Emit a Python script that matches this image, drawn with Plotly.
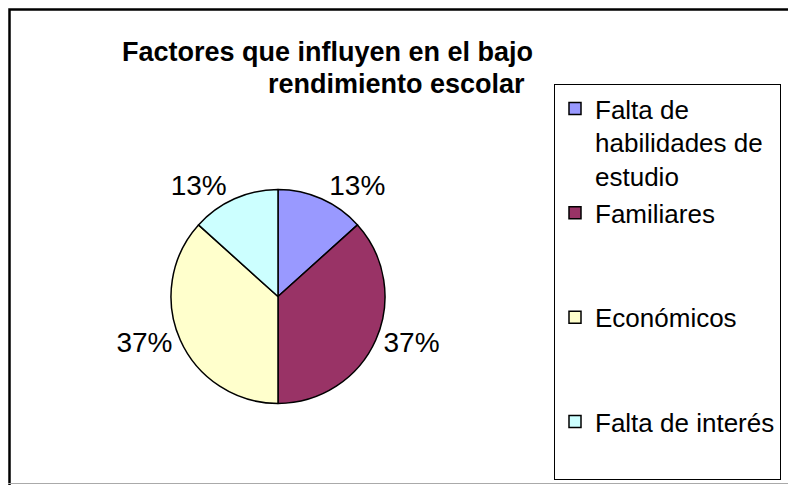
import plotly.graph_objects as go

# ---- data ----
categorias = ["Falta de habilidades de estudio", "Familiares", "Económicos", "Falta de interés"]
etiquetas_leyenda = [
    "Falta de<br>habilidades de<br>estudio",
    "Familiares<br> <br> ",
    "Económicos<br> <br> ",
    "Falta de interés<br> ",
]
valores = [4, 11, 11, 4]
colores = ["#9999FF", "#993366", "#FFFFCC", "#CCFFFF"]
titulo_l1 = "Factores que influyen en el bajo"
titulo_l2 = "rendimiento escolar"

# page body has an 8px margin; figure is sized to fit the window
OFF = 8
W, H = 796 - OFF, 485 - OFF
FONT = "Liberation Sans, Arial, sans-serif"

def px(x):
    return (x - OFF) / W

def py(y):
    return 1 - (y - OFF) / H

cx, cy, r = 278, 296.5, 107

fig = go.Figure()
fig.add_trace(go.Pie(
    labels=etiquetas_leyenda,
    values=valores,
    sort=False,
    direction="clockwise",
    rotation=0,
    marker=dict(colors=colores, line=dict(color="black", width=1.5)),
    texttemplate="%{percent:.0%}",
    textposition="outside",
    textfont=dict(family=FONT, size=28, color="black"),
    outsidetextfont=dict(family=FONT, size=28, color="black"),
    domain=dict(x=[px(cx - r), px(cx + r)], y=[py(cy + r), py(cy - r)]),
    hovertext=categorias,
    hoverinfo="text+percent",
))

fig.update_layout(
    width=W, height=H,
    margin=dict(l=0, r=0, t=0, b=0, autoexpand=False),
    paper_bgcolor="white",
    plot_bgcolor="white",
    showlegend=True,
    legend=dict(
        x=px(554), y=py(84), xanchor="left", yanchor="top",
        bordercolor="black", borderwidth=1,
        font=dict(family=FONT, size=26, color="black"),
        valign="top",
        bgcolor="white",
    ),
    annotations=[
        dict(text="<b>" + titulo_l1 + "</b>", x=px(327), y=py(52), xref="paper", yref="paper",
             xanchor="center", yanchor="middle", showarrow=False,
             font=dict(family=FONT, size=27, color="black")),
        dict(text="<b>" + titulo_l2 + "</b>", x=px(396), y=py(84), xref="paper", yref="paper",
             xanchor="center", yanchor="middle", showarrow=False,
             font=dict(family=FONT, size=27, color="black")),
    ],
    shapes=[
        dict(type="rect", xref="paper", yref="paper",
             x0=px(9.5), x1=px(796 + 10), y0=py(9.5), y1=py(485 + 10),
             line=dict(color="black", width=2.5), layer="above"),
        dict(type="line", xref="paper", yref="paper",
             x0=px(0), x1=px(796), y0=py(483.5), y1=py(483.5),
             line=dict(color="#aaaaaa", width=1), layer="above"),
    ],
)

fig.write_html("out.html")
